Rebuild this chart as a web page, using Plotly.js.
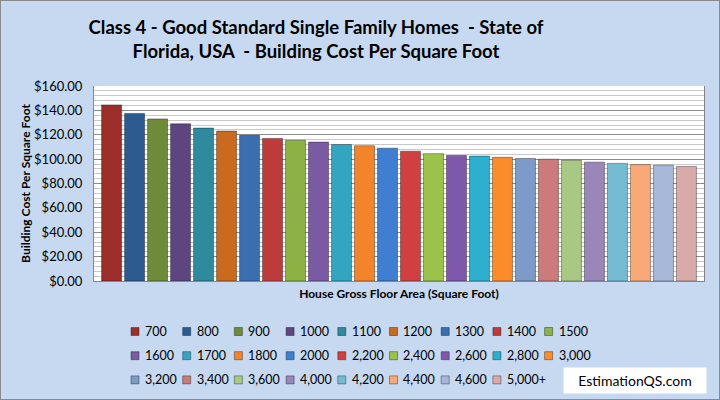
<!DOCTYPE html>
<html>
<head>
<meta charset="utf-8">
<script src="https://cdn.plot.ly/plotly-3.0.1.min.js"></script>
<style>
  html, body { margin: 0; padding: 0; background: #C6D9F0; }
  #chart { width: 718px; height: 398px; border: 1px solid #8a8a8a; }
</style>
</head>
<body>
<div id="chart"></div>
<script>
// Series names (house gross floor area, square foot)
const seriesNames = ["700", "800", "900", "1000", "1100", "1200", "1300", "1400", "1500",
  "1600", "1700", "1800", "2000", "2,200", "2,400", "2,600", "2,800", "3,000",
  "3,200", "3,400", "3,600", "4,000", "4,200", "4,400", "4,600", "5,000+"];
// Building cost per square foot (USD)
const costValues = [144.5, 137.5, 133, 129, 125.5, 123, 119.5, 117, 115.5,
  114, 112, 111, 109, 106.5, 104.5, 103, 102.5, 101.5,
  100.5, 100, 99, 97.5, 96.5, 95.5, 95, 94];
const seriesColors = ["#9B2D2B", "#2C5B8F", "#6E8B3A", "#5D4680", "#2F8A9E", "#C96A1E", "#3B6EAF", "#BE3B3B", "#8DB144",
  "#7A5BA3", "#33A5C1", "#F3842B", "#3F7ED0", "#D04040", "#9BC24B", "#7E58AA", "#2DB0D0", "#FA8C2A",
  "#7E9AC8", "#CC7A7A", "#A9C883", "#9A86B8", "#75BCD3", "#F9A877", "#A8B8D9", "#D8AAAA"];
const categoryLabel = ["Florida"];
const legendRowSizes = [9, 9, 8];

const FONT = "Lato, 'Open Sans', sans-serif";
const W = 718, H = 398;
const M = { l: 93, r: 15, t: 85, b: 118 };
const PW = W - M.l - M.r, PH = H - M.t - M.b;
// pixel (inside the div) -> paper coordinates
const px = x => (x - M.l) / PW;
const py = y => (M.t + PH - y) / PH;

const traces = seriesNames.map((name, i) => ({
  type: "bar",
  name: name,
  x: categoryLabel,
  y: [costValues[i]],
  marker: { color: seriesColors[i], line: { color: "rgba(0,0,0,0.35)", width: 1 } },
  hoverinfo: "name+y",
  showlegend: false
}));

// Legend laid out like the original (3 rows), built from the series names and colours
const shapes = [];
const annotations = [];
let idx = 0;
legendRowSizes.forEach((count, row) => {
  for (let c = 0; c < count; c++, idx++) {
    const cx = 134 + c * 51.7;
    const cy = 330.5 + row * 24.2;
    shapes.push({
      type: "rect", xref: "paper", yref: "paper",
      x0: px(cx - 4), x1: px(cx + 4), y0: py(cy + 4), y1: py(cy - 4),
      fillcolor: seriesColors[idx], line: { color: "rgba(0,0,0,0.35)", width: 1 }
    });
    annotations.push({
      text: seriesNames[idx], xref: "paper", yref: "paper",
      x: px(cx + 8), xanchor: "left", y: py(cy), yanchor: "middle",
      showarrow: false, font: { family: FONT, size: 12.5, color: "#000" }
    });
  }
});

annotations.push({
  text: "EstimationQS.com",
  xref: "paper", yref: "paper",
  x: px(706), xanchor: "right",
  y: py(379), yanchor: "middle",
  showarrow: false,
  bgcolor: "#FFFFFF",
  borderpad: 4,
  font: { family: FONT, size: 14, color: "#000000" },
  width: 134
});

const layout = {
  width: W,
  height: H,
  paper_bgcolor: "#C6D9F0",
  plot_bgcolor: "#FFFFFF",
  margin: M,
  font: { family: FONT, color: "#000000", size: 12 },
  title: {
    text: "Class 4 - Good Standard Single Family Homes  - State of<br>Florida, USA  - Building Cost Per Square Foot",
    font: { family: FONT, size: 18.5, color: "#000000", weight: "bold" },
    xref: "paper", x: px(315), xanchor: "center",
    yref: "paper", y: 1, yanchor: "bottom",
    pad: { b: 52 }
  },
  barmode: "group",
  bargap: 0.02,
  bargroupgap: 0.13,
  showlegend: false,
  xaxis: {
    showticklabels: false,
    showgrid: false,
    zeroline: false,
    showline: true,
    linecolor: "#868686",
    title: { text: "House Gross Floor Area (Square Foot)", font: { family: FONT, size: 12, weight: "bold" }, standoff: 8 }
  },
  yaxis: {
    range: [0, 160],
    dtick: 20,
    tickprefix: "$",
    tickformat: ".2f",
    tickfont: { family: FONT, size: 13 },
    ticks: "",
    ticklabelstandoff: 8,
    showgrid: true,
    gridcolor: "#8C8C8C",
    gridwidth: 1,
    minor: { dtick: 4, showgrid: true, gridcolor: "#C8C8C8", gridwidth: 1 },
    zeroline: false,
    showline: true,
    linecolor: "#868686",
    mirror: true,
    title: { text: "Building Cost Per Square Foot", font: { family: FONT, size: 12, weight: "bold" }, standoff: 0 }
  },
  shapes: shapes,
  annotations: annotations
};

Plotly.newPlot("chart", traces, layout, { displayModeBar: false, staticPlot: true });
</script>
</body>
</html>
